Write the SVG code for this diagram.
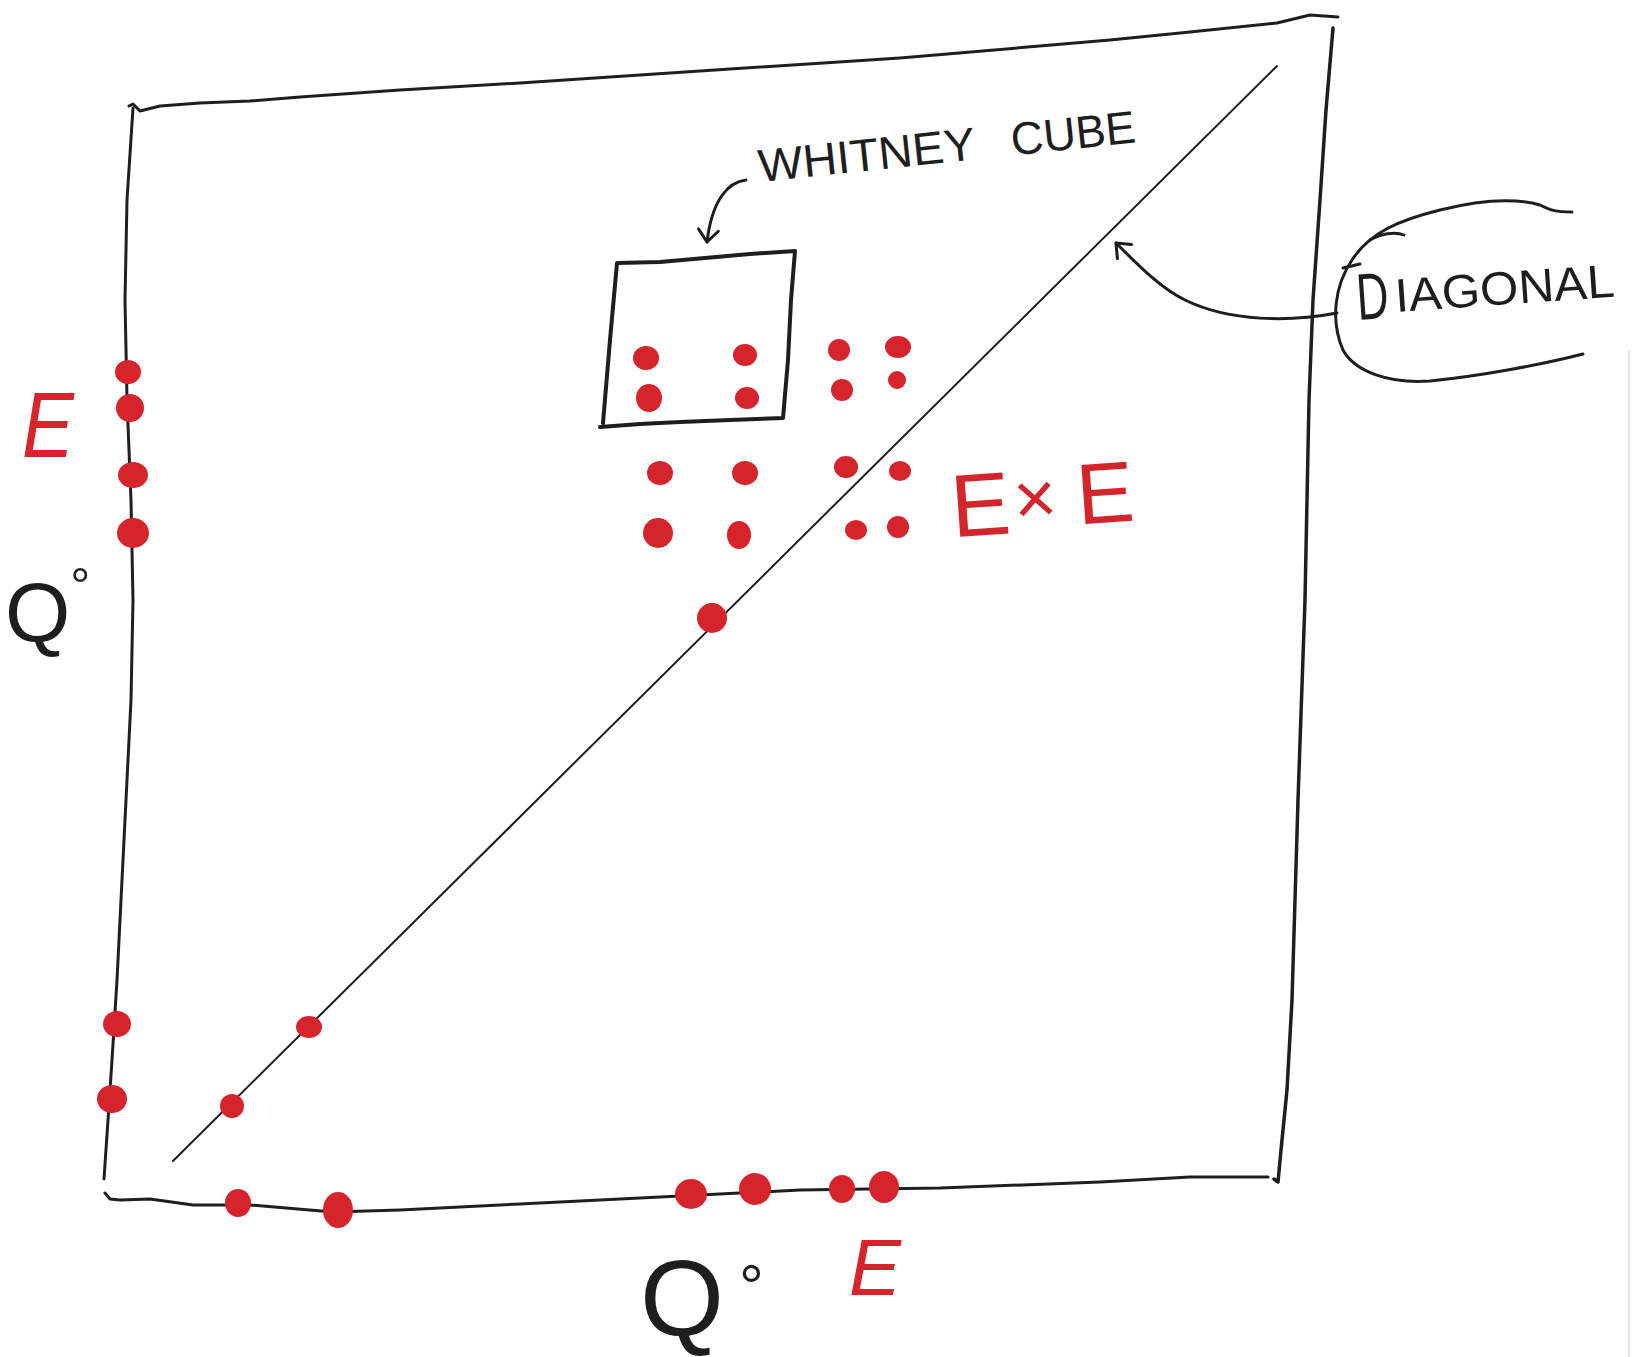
<svg xmlns="http://www.w3.org/2000/svg" width="1632" height="1357" viewBox="0 0 1632 1357">
<style>
.ink{fill:none;stroke:#1e1e1e;stroke-linecap:round;stroke-linejoin:round}
.dot{fill:#d6242c}
.lbl{font-family:"Liberation Sans",Arial,sans-serif;fill:#1e1e1e}
.red{font-family:"Liberation Sans",Arial,sans-serif;fill:#d6242c;font-style:italic}
</style>
<defs>
<marker id="arr" markerUnits="userSpaceOnUse" viewBox="0 0 30 30" markerWidth="30" markerHeight="30" refX="15" refY="15" orient="auto" overflow="visible">
<path d="M3,5 L15,15 L3,25" fill="none" stroke="#1e1e1e" stroke-width="3" stroke-linecap="round" stroke-linejoin="round"/>
</marker>
</defs>
<rect width="1632" height="1357" fill="#ffffff"/>
<line x1="1629" y1="350" x2="1629" y2="1357" stroke="#e4e4e4" stroke-width="2"/>

<g id="product-square">
<path class="ink" stroke-width="3" d="M133,108 L127,200 L125,300 L127,400 L131,500 L133,600 L131,700 L126,800 L121,900 L117,980 L112,1060 L108,1120 L104,1179"/>
<path class="ink" stroke-width="3" d="M129,106 L133,104 L140,111 L160,106 L200,103 L250,101 L300,97 L400,90 L520,83 L700,71 L900,58 L1110,40 L1190,32 L1277,23 L1310,15 L1338,17"/>
<path class="ink" stroke-width="3.5" d="M1333,28 L1326,110 L1320,200 L1313,300 L1309,400 L1305,600 L1298,800 L1292,1000 L1287,1090 L1281,1150 L1278,1182 L1274,1179"/>
<path class="ink" stroke-width="3" d="M105,1193 L110,1199 L120,1200 L150,1199 L193,1205 L250,1205 L333,1212 L400,1210 L520,1204 L560,1202 L700,1195 L800,1190 L940,1188 L1100,1182 L1190,1177 L1268,1177"/>
</g>

<g id="diagonal-line">
<line class="ink" stroke-width="2" x1="173" y1="1161" x2="1277" y2="66"/>
</g>

<g id="whitney-cube">
<path class="ink" stroke-width="4" d="M603,423 L610,340 L617,263 L660,262 L705,258 L750,254 L795,251 L791,300 L788,360 L783,418 L730,420 L680,422 L640,424 L600,427"/>
</g>

<g id="left-axis-points">
<ellipse class="dot" cx="128" cy="372" rx="13" ry="12"/>
<ellipse class="dot" cx="130" cy="408" rx="14" ry="14"/>
<ellipse class="dot" cx="133" cy="475" rx="15" ry="13"/>
<ellipse class="dot" cx="133" cy="533" rx="16" ry="15"/>
<ellipse class="dot" cx="117" cy="1024" rx="14" ry="13"/>
<ellipse class="dot" cx="112" cy="1099" rx="15" ry="14"/>
</g>

<g id="bottom-axis-points">
<ellipse class="dot" cx="238" cy="1203" rx="13" ry="14"/>
<ellipse class="dot" cx="338" cy="1210" rx="15" ry="18"/>
<ellipse class="dot" cx="691" cy="1194" rx="16" ry="15"/>
<ellipse class="dot" cx="755" cy="1189" rx="16" ry="16"/>
<ellipse class="dot" cx="842" cy="1189" rx="13" ry="14"/>
<ellipse class="dot" cx="884" cy="1187" rx="15" ry="16"/>
</g>

<g id="diagonal-points">
<ellipse class="dot" cx="309" cy="1027" rx="13" ry="11"/>
<ellipse class="dot" cx="232" cy="1106" rx="12" ry="12"/>
<ellipse class="dot" cx="712" cy="618" rx="15" ry="15"/>
</g>

<g id="product-points">
<ellipse class="dot" cx="646" cy="358" rx="13" ry="12"/>
<ellipse class="dot" cx="745" cy="355" rx="12" ry="11"/>
<ellipse class="dot" cx="839" cy="350" rx="11" ry="11"/>
<ellipse class="dot" cx="898" cy="347" rx="13" ry="11"/>
<ellipse class="dot" cx="649" cy="398" rx="13" ry="14"/>
<ellipse class="dot" cx="747" cy="398" rx="12" ry="11"/>
<ellipse class="dot" cx="842" cy="390" rx="11" ry="11"/>
<ellipse class="dot" cx="897" cy="380" rx="9" ry="9"/>
<ellipse class="dot" cx="660" cy="473" rx="13" ry="12"/>
<ellipse class="dot" cx="745" cy="473" rx="13" ry="12"/>
<ellipse class="dot" cx="846" cy="467" rx="12" ry="11"/>
<ellipse class="dot" cx="900" cy="471" rx="11" ry="10"/>
<ellipse class="dot" cx="658" cy="533" rx="15" ry="15"/>
<ellipse class="dot" cx="739" cy="535" rx="12" ry="14"/>
<ellipse class="dot" cx="856" cy="530" rx="11" ry="10"/>
<ellipse class="dot" cx="898" cy="527" rx="11" ry="11"/>
</g>

<g id="label-whitney-cube" transform="rotate(-6 760 182)">
<text class="lbl" x="760" y="182" font-size="46" textLength="218" lengthAdjust="spacingAndGlyphs">WHITNEY</text>
<text class="lbl" x="1014" y="182" font-size="46" textLength="125" lengthAdjust="spacingAndGlyphs">CUBE</text>
</g>

<g id="label-diagonal">
<path class="ink" stroke-width="3" d="M1583,354 C1540,365 1480,376 1430,381 C1390,384 1355,372 1343,350 C1330,320 1335,285 1352,260 C1370,232 1400,220 1440,210 C1480,200 1515,198 1540,205 C1550,210 1555,212 1572,212"/>
<path class="ink" stroke-width="3" d="M1370,240 C1380,234 1395,231 1404,235"/>
<path class="ink" stroke-width="3" d="M1343,268 L1360,264"/>
<text class="lbl" x="1358" y="320" font-size="66" textLength="32" lengthAdjust="spacingAndGlyphs" transform="rotate(-4 1358 320)">D</text>
<text class="lbl" x="1396" y="312" font-size="47" textLength="220" lengthAdjust="spacingAndGlyphs" transform="rotate(-4 1396 312)">IAGONAL</text>
</g>

<g id="label-E-left">
<text class="red" x="22" y="457" font-size="93" textLength="52" lengthAdjust="spacingAndGlyphs">E</text>
</g>
<g id="label-Q-left">
<text class="lbl" x="5" y="641" font-size="84">Q<tspan font-size="50" dy="-38">°</tspan></text>
</g>
<g id="label-E-bottom">
<text class="red" x="849" y="1295" font-size="80" textLength="52" lengthAdjust="spacingAndGlyphs">E</text>
</g>
<g id="label-Q-bottom">
<text class="lbl" x="640" y="1336" font-size="108">Q<tspan x="739" y="1308" font-size="62">°</tspan></text>
</g>
<g id="label-ExE" transform="rotate(-4 957 537)">
<text class="red" style="font-style:normal" x="953" y="537" font-size="89">E<tspan x="1016" y="529" font-size="74">×</tspan><tspan x="1079" y="533" font-size="86">E</tspan></text>
</g>

<g id="connectors">
<path class="ink" stroke-width="3" d="M746,180 C728,182 712,200 707,242" marker-end="url(#arr)"/>
<path class="ink" stroke-width="3" d="M1337,313 C1290,322 1230,322 1185,300 C1160,288 1135,262 1116,243" marker-end="url(#arr)"/>
</g>
</svg>
